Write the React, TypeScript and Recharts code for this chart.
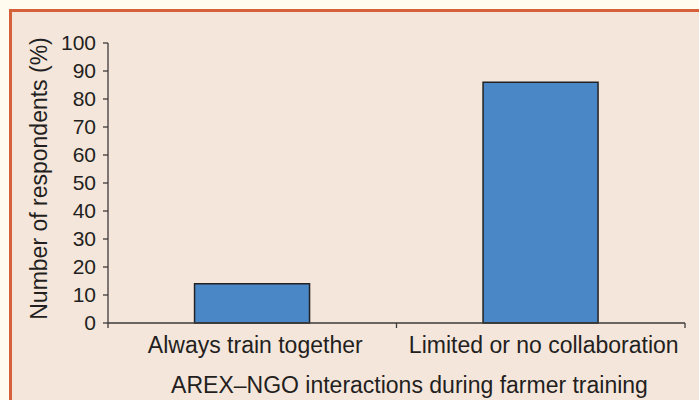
import React from 'react';
import { BarChart, Bar, XAxis, YAxis, Label } from 'recharts';

// Share of respondents by type of AREX–NGO interaction
const categories = ['Always train together', 'Limited or no collaboration'];
const respondentShare = [14, 86];
const yTicks = [0, 10, 20, 30, 40, 50, 60, 70, 80, 90, 100];

const yAxisTitle = 'Number of respondents (%)';
const xAxisTitle = 'AREX\u2013NGO interactions during farmer training';

const data = categories.map((name, i) => ({ name, value: respondentShare[i] }));

const FONT = '"Liberation Sans", Arial, Helvetica, sans-serif';
const TEXT = '#231f20';
const AXIS = '#3c3a3a';

// Category tick: label centred under the band, tick marks on the band edges
function CategoryTick(props: any) {
  const { x, y, payload, width, visibleTicksCount, index } = props;
  const band = width / (visibleTicksCount || categories.length);
  const axisY = y - 14;
  const left = x - band / 2;
  const right = x + band / 2;
  return (
    <g>
      <line x1={left} y1={axisY} x2={left} y2={axisY + 5} stroke={AXIS} strokeWidth={1.3} />
      {index === (visibleTicksCount || categories.length) - 1 && (
        <line x1={right} y1={axisY} x2={right} y2={axisY + 5} stroke={AXIS} strokeWidth={1.3} />
      )}
      <text
        x={x + 3}
        y={y}
        dy="0.71em"
        textAnchor="middle"
        fontSize={23}
        fill={TEXT}
        fontFamily={FONT}
      >
        {payload.value}
      </text>
    </g>
  );
}

export default function App() {
  return (
    <div
      style={{
        position: 'absolute',
        left: 0,
        top: 0,
        width: 699,
        height: 400,
        background: '#fffbef',
        overflow: 'hidden',
      }}
    >
      <div
        style={{
          position: 'absolute',
          left: 9,
          top: 9,
          right: 0,
          bottom: 0,
          borderTop: '3px solid #d6603a',
          borderLeft: '3px solid #d6603a',
          background: '#f5e6dc',
        }}
      />
      <div style={{ position: 'absolute', left: 0, top: 0 }}>
        <BarChart
          width={699}
          height={400}
          data={data}
          margin={{ top: 43, right: 14, bottom: 45, left: 48 }}
          barCategoryGap="30%"
        >
          <XAxis
            xAxisId="cat"
            dataKey="name"
            type="category"
            height={32}
            tickLine={false}
            tickSize={5}
            tickMargin={9}
            axisLine={{ stroke: AXIS, strokeWidth: 1.3 }}
            tick={<CategoryTick />}
            interval={0}
          >
            <Label
              content={({ viewBox }: any) => (
                <text
                  x={viewBox.x + viewBox.width / 2 + 13}
                  y={viewBox.y + 70}
                  textAnchor="middle"
                  fontSize={23}
                  fill={TEXT}
                  fontFamily={FONT}
                >
                  {xAxisTitle}
                </text>
              )}
            />
          </XAxis>
          <YAxis
            width={60}
            domain={[0, 100]}
            ticks={yTicks}
            interval={0}
            tickSize={5}
            tickMargin={7}
            axisLine={{ stroke: AXIS, strokeWidth: 1.3 }}
            tickLine={{ stroke: AXIS, strokeWidth: 1.3 }}
            tick={{ fontSize: 21, fill: TEXT, fontFamily: FONT }}
          >
            <Label
              content={({ viewBox }: any) => {
                const cx = viewBox.x - 1.5;
                const cy = viewBox.y + viewBox.height / 2 - 4.5;
                return (
                  <text
                    x={cx}
                    y={cy}
                    transform={`rotate(-90, ${cx}, ${cy})`}
                    textAnchor="middle"
                    fontSize={23}
                    fill={TEXT}
                    fontFamily={FONT}
                  >
                    {yAxisTitle}
                  </text>
                );
              }}
            />
          </YAxis>
          <Bar
            xAxisId="cat"
            dataKey="value"
            fill="#4a87c6"
            stroke="#222224"
            strokeWidth={1.5}
            isAnimationActive={false}
          />
        </BarChart>
      </div>
    </div>
  );
}
